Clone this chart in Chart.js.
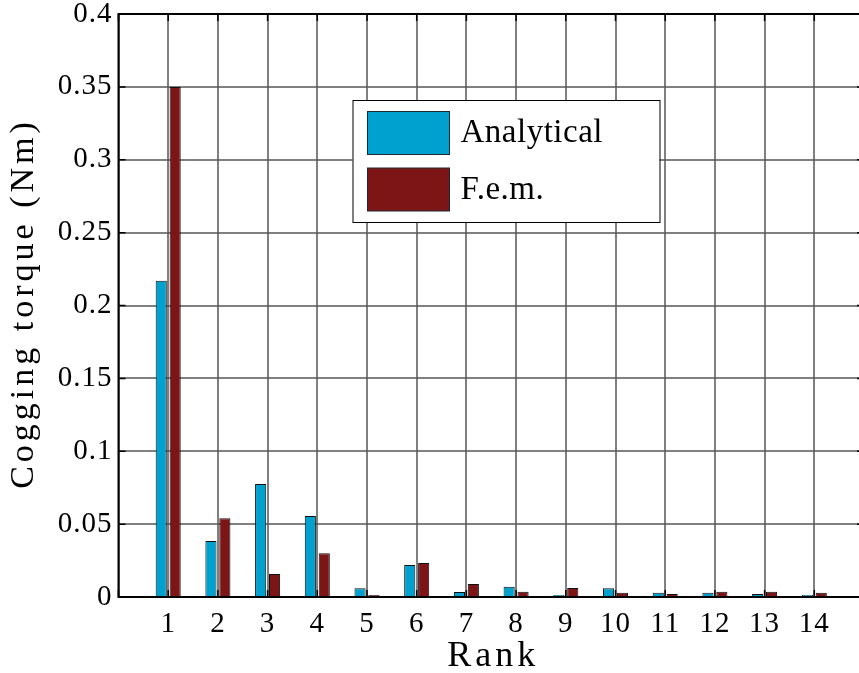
<!DOCTYPE html>
<html>
<head>
<meta charset="utf-8">
<script src="https://cdn.jsdelivr.net/npm/chart.js@4"></script>
<style>
  html, body { margin: 0; padding: 0; background: #fff; overflow: hidden; }
  #wrap { position: absolute; left: 0; top: 0; width: 870px; height: 673px; }
</style>
</head>
<body>
<div id="wrap"><canvas id="c" width="870" height="673"></canvas></div>
<script>
// Harmonic ranks and cogging torque amplitudes (Nm)
const ranks = [1, 2, 3, 4, 5, 6, 7, 8, 9, 10, 11, 12, 13, 14];
const rankLabels = ['1', '2', '3', '4', '5', '6', '7', '8', '9', '10', '11', '12', '13', '14'];
const analytical = [0.217, 0.0384, 0.0775, 0.0556, 0.006, 0.022, 0.0034, 0.0071, 0.0013, 0.006, 0.003, 0.003, 0.002, 0.0013];
const fem = [0.35, 0.054, 0.0158, 0.030, 0.0013, 0.0233, 0.0089, 0.0036, 0.0062, 0.003, 0.002, 0.0036, 0.0036, 0.003];
const seriesNames = ['Analytical', 'F.e.m.'];

const SERIF = '"Liberation Serif", "Times New Roman", serif';
const BLUE = '#00A0CF';
const RED = '#7D1517';

// Frame, inward tick marks, axis titles and the boxed legend
const decorations = {
  id: 'decorations',
  beforeDraw(chart) {
    chart.ctx.letterSpacing = '1px';
  },
  afterDraw(chart) {
    const ctx = chart.ctx;
    const a = chart.chartArea;
    const xs = chart.scales.x, ys = chart.scales.y;
    ctx.save();
    ctx.letterSpacing = '0px';

    // tick marks
    ctx.strokeStyle = '#000';
    ctx.lineWidth = 1.5;
    ctx.beginPath();
    xs.ticks.forEach(t => {
      const px = xs.getPixelForValue(t.value);
      ctx.moveTo(px, a.top); ctx.lineTo(px, a.top + 7);
      ctx.moveTo(px, a.bottom); ctx.lineTo(px, a.bottom - 7);
    });
    ys.ticks.forEach(t => {
      const py = ys.getPixelForValue(t.value);
      ctx.moveTo(a.left, py); ctx.lineTo(a.left + 7, py);
      ctx.moveTo(a.right, py); ctx.lineTo(a.right - 7, py);
    });
    ctx.stroke();

    // axes box
    ctx.lineWidth = 2;
    ctx.strokeRect(a.left, a.top, a.right - a.left, a.bottom - a.top);

    // axis titles
    ctx.fillStyle = '#000';
    ctx.letterSpacing = '4px';
    ctx.font = '36px ' + SERIF;
    ctx.textAlign = 'center';
    ctx.textBaseline = 'alphabetic';
    ctx.fillText('Rank', (a.left + a.right) / 2 + 2, 666);

    ctx.save();
    ctx.font = '34px ' + SERIF;
    ctx.translate(33, (a.top + a.bottom) / 2 - 2);
    ctx.rotate(-Math.PI / 2);
    ctx.fillText('Cogging torque (Nm)', 0, 0);
    ctx.restore();

    // legend
    ctx.letterSpacing = '0.5px';
    const lx = a.left + 234, ly = a.top + 86, lw = 307, lh = 122;
    ctx.fillStyle = '#fff';
    ctx.fillRect(lx, ly, lw, lh);
    ctx.strokeStyle = '#000';
    ctx.lineWidth = 1;
    ctx.strokeRect(lx + 0.5, ly + 0.5, lw, lh);
    ctx.font = '33px ' + SERIF;
    ctx.textAlign = 'left';
    ctx.textBaseline = 'middle';
    chart.data.datasets.forEach((ds, i) => {
      const sy = ly + 11.5 + i * 56.5;
      ctx.fillStyle = ds.backgroundColor;
      ctx.fillRect(lx + 15, sy, 82, 43);
      ctx.strokeStyle = '#1a2a30';
      ctx.strokeRect(lx + 15, sy, 82, 43);
      ctx.fillStyle = '#000';
      ctx.fillText(ds.label, lx + 108, sy + 22);
    });
    ctx.restore();
  }
};

new Chart(document.getElementById('c'), {
  type: 'bar',
  data: {
    datasets: [
      {
        label: seriesNames[0],
        data: ranks.map((r, i) => ({ x: r, y: analytical[i] })),
        backgroundColor: BLUE,
        borderColor: '#101010',
        borderWidth: 1
      },
      {
        label: seriesNames[1],
        data: ranks.map((r, i) => ({ x: r, y: fem[i] })),
        backgroundColor: RED,
        borderColor: '#101010',
        borderWidth: 1
      }
    ]
  },
  options: {
    responsive: false,
    animation: false,
    categoryPercentage: 0.56,
    barPercentage: 0.8,
    layout: { padding: { left: 0, top: 14, right: 6, bottom: 0 } },
    plugins: {
      legend: { display: false },
      tooltip: { enabled: false }
    },
    scales: {
      x: {
        type: 'linear',
        min: 0,
        max: 15,
        z: 1,
        offset: false,
        afterFit(scale) {
          scale.height = 76;
          scale.paddingLeft = 0;
          scale.paddingRight = 0;
        },
        grid: { color: 'rgba(85,85,85,0.75)', lineWidth: 2, drawTicks: false, offset: false },
        border: { display: false },
        ticks: {
          stepSize: 1,
          autoSkip: false,
          maxRotation: 0,
          padding: 10,
          color: '#000',
          font: { family: SERIF, size: 29 },
          callback(v) {
            const k = ranks.indexOf(v);
            return k >= 0 ? rankLabels[k] : '';
          }
        }
      },
      y: {
        min: 0,
        max: 0.4,
        z: 1,
        afterFit(scale) {
          scale.width = 118.5;
          scale.paddingTop = 0;
          scale.paddingBottom = 0;
        },
        grid: { color: 'rgba(85,85,85,0.75)', lineWidth: 2, drawTicks: false },
        border: { display: false },
        ticks: {
          stepSize: 0.05,
          padding: 6,
          color: '#000',
          font: { family: SERIF, size: 29 },
          callback(v) { return String(parseFloat(v.toFixed(2))); }
        }
      }
    }
  },
  plugins: [decorations]
});
</script>
</body>
</html>
